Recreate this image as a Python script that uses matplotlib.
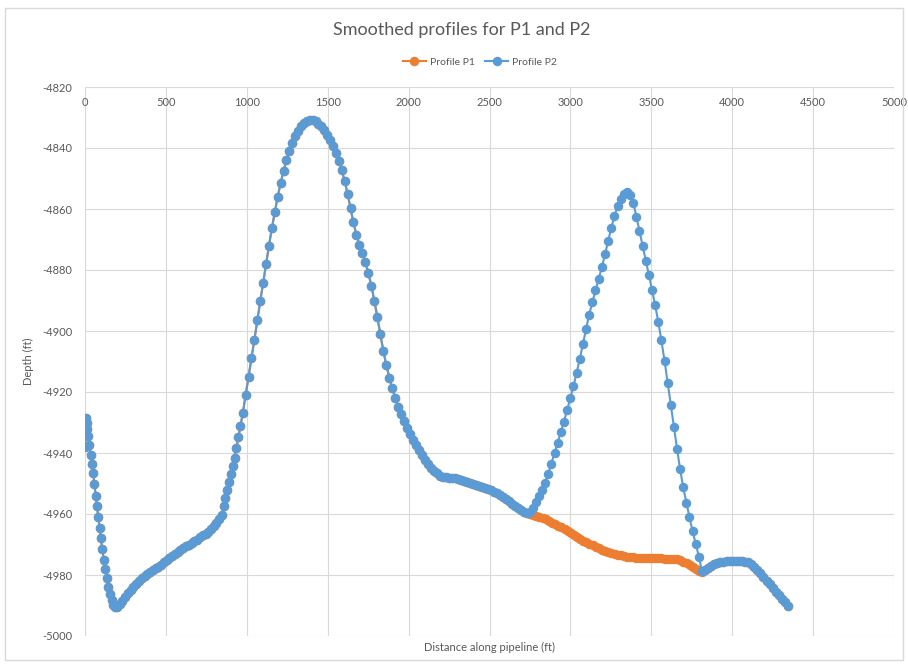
import matplotlib.pyplot as plt
from matplotlib.patches import Rectangle

plt.rcParams['font.family'] = ['Lato', 'DejaVu Sans']
plt.rcParams['axes.unicode_minus'] = False

# Profile P2: distance along pipeline (ft) and depth (ft)
p2_dist = [
    0, 5, 10, 15, 20, 27, 34, 42, 50, 58, 66, 74, 82, 90, 98, 107, 116, 125, 134, 144,
    154, 165, 176, 188, 198,
    215, 230, 247, 265, 282, 299, 316, 333, 350, 368, 385, 402, 419, 436, 453, 470,
    487, 504, 521, 538, 556, 573, 590, 607, 624, 641, 659, 676, 693, 710, 727, 745,
    762, 779, 796, 812, 829, 845,
    857, 868, 879, 890, 901, 912, 924, 936, 948, 960, 975, 993, 1011, 1029, 1047, 1065,
    1083, 1101, 1119, 1137, 1155, 1173, 1191, 1209, 1227, 1245, 1263, 1281, 1299, 1317,
    1335, 1353, 1371, 1389,
    1407, 1425, 1443, 1461, 1479, 1497, 1515, 1533, 1551, 1569, 1587, 1605, 1623, 1641,
    1659, 1677, 1696, 1714, 1733, 1751, 1770, 1788, 1807, 1825, 1844, 1862, 1881, 1899,
    1918, 1936, 1955, 1973, 1992, 2010, 2029, 2047, 2066, 2084, 2103, 2121, 2140, 2158,
    2177, 2195, 2214, 2232, 2251, 2269, 2288, 2306, 2325, 2343, 2362, 2380, 2399, 2417,
    2436, 2454, 2473, 2491, 2510, 2528, 2547, 2565, 2584, 2602, 2621, 2639, 2658, 2676,
    2695, 2713, 2732,
    2750, 2769, 2787, 2805, 2824, 2843, 2863, 2882, 2902, 2921, 2941, 2960, 2980, 2999,
    3019, 3038, 3058, 3077, 3097, 3116, 3136, 3155, 3175, 3194, 3214, 3233, 3253, 3272,
    3292, 3311, 3331, 3350,
    3369, 3389, 3408, 3427, 3447, 3466, 3485, 3504, 3524, 3543, 3562, 3582, 3601, 3620,
    3640, 3659, 3678, 3697, 3717, 3736, 3755, 3775, 3794, 3813,
    3832, 3851, 3870, 3889, 3908, 3927, 3946, 3965, 3984, 4003, 4022, 4041, 4060, 4079,
    4098, 4117, 4136, 4155, 4174, 4193, 4212, 4231, 4250, 4269, 4288, 4307, 4326, 4345,
]
p2_depth = [
    -4938.0, -4928.5, -4930.0, -4932.0, -4934.5, -4937.5, -4940.5, -4943.5, -4946.5, -4950.0,
    -4954.0, -4957.5, -4961.0, -4964.5, -4968.0, -4971.5, -4975.0, -4978.0, -4981.0, -4983.8,
    -4986.2, -4988.3, -4989.7, -4990.4, -4990.6,
    -4989.5, -4988.4, -4987.1, -4985.9, -4984.8, -4983.8, -4982.8, -4981.9, -4981.1, -4980.4,
    -4979.7, -4979.0, -4978.4, -4977.8, -4977.3, -4976.6, -4975.9, -4975.2, -4974.5, -4973.8,
    -4973.1, -4972.5, -4971.9, -4971.2, -4970.6, -4970.1, -4969.6, -4969.0, -4968.4, -4967.7,
    -4967.0, -4966.4, -4965.8, -4965.0, -4964.0, -4962.9, -4961.7, -4960.3,
    -4957.5, -4954.6, -4952.0, -4949.5, -4947.0, -4944.4, -4941.5, -4938.3, -4934.8, -4931.2,
    -4927.0, -4921.0, -4915.0, -4909.0, -4902.8, -4896.5, -4890.3, -4884.2, -4878.0, -4872.0,
    -4866.3, -4861.0, -4856.0, -4851.5, -4847.5, -4844.0, -4840.9, -4838.3, -4836.1, -4834.3,
    -4832.8, -4831.7, -4831.0, -4830.7,
    -4830.8, -4831.3, -4832.0, -4832.9, -4834.2, -4835.8, -4837.5, -4839.4, -4841.6, -4844.2,
    -4847.3, -4850.9, -4855.0, -4859.8, -4864.3, -4868.4, -4871.8, -4874.5, -4877.5, -4881.0,
    -4885.2, -4890.0, -4895.5, -4901.0, -4906.5, -4911.2, -4915.3, -4918.8, -4922.0, -4924.8,
    -4927.3, -4929.6, -4931.7, -4933.7, -4935.6, -4937.4, -4939.1, -4940.7, -4942.2, -4943.6,
    -4944.8, -4945.8, -4946.7, -4947.4, -4947.8, -4948.0, -4948.1, -4948.2, -4948.3, -4948.6,
    -4948.9, -4949.2, -4949.5, -4949.8, -4950.1, -4950.4, -4950.7, -4951.0, -4951.4, -4951.8,
    -4952.2, -4952.7, -4953.2, -4953.8, -4954.4, -4955.1, -4955.8, -4956.6, -4957.4, -4958.1,
    -4958.8, -4959.4, -4959.8,
    -4959.3, -4958.0, -4956.2, -4954.2, -4952.1, -4949.8, -4946.8, -4943.5, -4940.0, -4936.6,
    -4933.2, -4929.7, -4925.9, -4922.1, -4918.1, -4913.8, -4909.2, -4904.3, -4899.3, -4894.6,
    -4890.5, -4886.7, -4882.9, -4879.0, -4874.9, -4870.5, -4866.2, -4862.3, -4859.0, -4856.6,
    -4855.0, -4854.4,
    -4855.4, -4858.0, -4862.5, -4867.3, -4872.2, -4876.9, -4881.6, -4886.5, -4891.6, -4897.0,
    -4903.0, -4909.8, -4916.9, -4924.2, -4931.5, -4938.6, -4945.3, -4951.2, -4956.3, -4961.1,
    -4965.7, -4969.8, -4974.0, -4978.8,
    -4978.2, -4977.6, -4977.0, -4976.5, -4976.1, -4975.8, -4975.6, -4975.5, -4975.4, -4975.4,
    -4975.4, -4975.4, -4975.5, -4975.6, -4975.9, -4976.5, -4977.4, -4978.4, -4979.5, -4980.7,
    -4981.9, -4983.1, -4984.3, -4985.5, -4986.7, -4987.9, -4989.0, -4990.0,
]

# Profile P1 only differs from P2 between the two kinks
p1_split_dist = [
    2732, 2751, 2770, 2790, 2809, 2828, 2848, 2867, 2886, 2906, 2925, 2944, 2964, 2983,
    3002, 3022, 3041, 3060, 3080, 3099, 3118, 3138, 3157, 3176, 3196, 3215, 3234, 3254,
    3273, 3292, 3312, 3331, 3350, 3370, 3389, 3408, 3428, 3447, 3466, 3486, 3505, 3524,
    3544, 3563, 3582, 3602, 3621, 3640, 3660, 3679, 3698, 3718, 3737, 3756, 3776, 3795,
    3813,
]
p1_split_depth = [
    -4959.8, -4960.0, -4960.3, -4960.6, -4961.0, -4961.4, -4961.8, -4962.3, -4962.8, -4963.3,
    -4963.8, -4964.4, -4965.0, -4965.6, -4966.2, -4966.9, -4967.5, -4968.1, -4968.7, -4969.3,
    -4969.8, -4970.3, -4970.8, -4971.3, -4971.7, -4972.1, -4972.5, -4972.8, -4973.1, -4973.4,
    -4973.6, -4973.8, -4974.0, -4974.1, -4974.2, -4974.3, -4974.4, -4974.4, -4974.4, -4974.4,
    -4974.4, -4974.4, -4974.4, -4974.5, -4974.6, -4974.6, -4974.7, -4974.7, -4974.9, -4975.2,
    -4975.6, -4976.1, -4976.7, -4977.4, -4978.1, -4978.7, -4979.0,
]

start, end = p1_split_dist[0], p1_split_dist[-1]
before = [(d, z) for d, z in zip(p2_dist, p2_depth) if d < start]
after = [(d, z) for d, z in zip(p2_dist, p2_depth) if d > end]
p1_dist = [d for d, _ in before] + p1_split_dist + [d for d, _ in after]
p1_depth = [z for _, z in before] + p1_split_depth + [z for _, z in after]

BLUE = '#5B9BD5'
ORANGE = '#ED7D31'
TEXT = '#595959'
GRID = '#D9D9D9'

fig = plt.figure(figsize=(9.08, 6.67), dpi=100)
fig.patches.append(Rectangle((5 / 908, 7 / 667), 898 / 908, 652 / 667, transform=fig.transFigure,
                             fill=False, edgecolor=GRID, lw=1))
ax = fig.add_axes([85 / 908, 1 - 636 / 667, (894 - 85) / 908, (636 - 87) / 667])

ax.plot(p1_dist, p1_depth, color=ORANGE, marker='o', ms=5.8, lw=1.5, label='Profile P1')
ax.plot(p2_dist, p2_depth, color=BLUE, marker='o', ms=5.8, lw=1.5, label='Profile P2')

ax.set_xlim(0, 5000)
ax.set_ylim(-5000, -4820)
ax.set_xticks(range(0, 5001, 500))
ax.set_yticks(range(-5000, -4819, 20))
ax.grid(color=GRID, lw=0.8)
ax.set_axisbelow(True)
for s in ax.spines.values():
    s.set_visible(False)

ax.tick_params(axis='x', bottom=False, labelbottom=False, top=False, labeltop=True,
               pad=-15, labelsize=8, labelcolor=TEXT, length=0)
ax.tick_params(axis='y', length=0, pad=9, labelsize=8, labelcolor=TEXT)

ax.set_xlabel('Distance along pipeline (ft)', fontsize=8, color=TEXT, labelpad=4)
ax.set_ylabel('Depth (ft)', fontsize=8, color=TEXT, labelpad=6)

fig.text(462 / 908, 1 - 30 / 667, 'Smoothed profiles for P1 and P2', ha='center', va='center',
         fontsize=13, color=TEXT)
fig.legend(loc='center', bbox_to_anchor=(480 / 908, 1 - 62 / 667), ncol=2, frameon=False,
           fontsize=7.5, handlelength=2.2, columnspacing=1.0, handletextpad=0.4,
           labelcolor=TEXT)

fig.savefig('out.png', dpi=100)
